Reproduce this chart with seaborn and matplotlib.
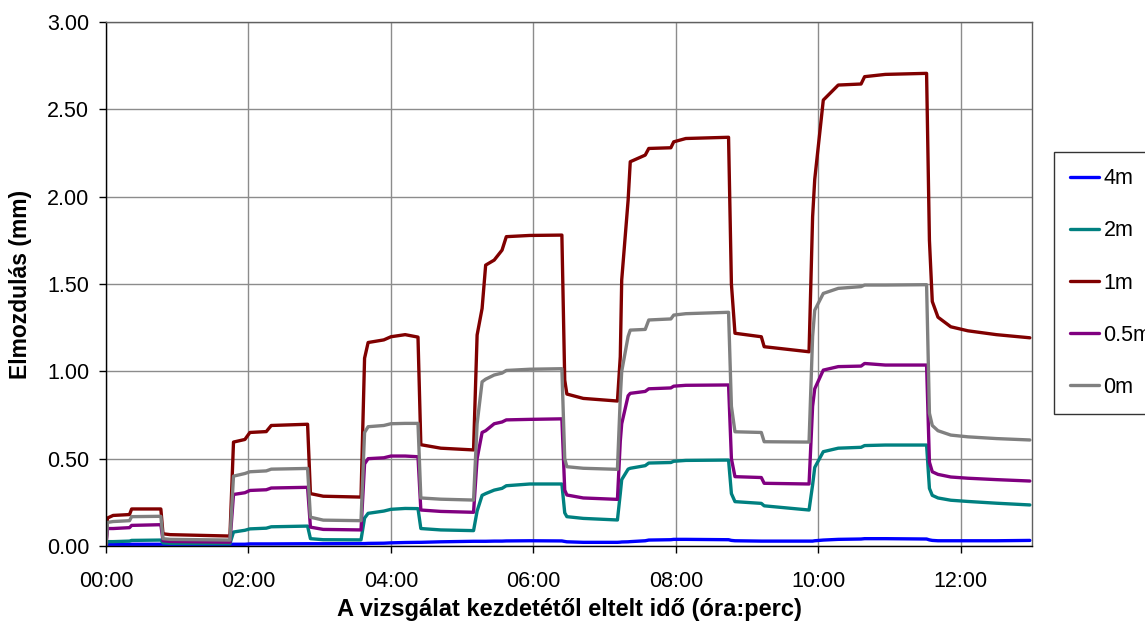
import matplotlib
matplotlib.use("Agg")
import matplotlib.pyplot as plt
import matplotlib.ticker as mticker
from matplotlib.lines import Line2D
import numpy as np
import pandas as pd
import seaborn as sns

# ---- data (time in hours since start of test, displacement in mm) ----
series_names = ["4m", "2m", "1m", "0.5m", "0m"]
series_colors = ["#0000FF", "#008080", "#800000", "#800080", "#808080"]

time_h = [0.00, 0.02, 0.10, 0.33, 0.36, 0.77, 0.80, 0.90, 1.74,
          1.79, 1.95, 2.02, 2.25, 2.32, 2.83, 2.87, 3.05, 3.58,
          3.63, 3.68, 3.90, 4.00, 4.20, 4.38, 4.42, 4.70, 5.16,
          5.21, 5.28, 5.33, 5.45, 5.56, 5.62, 5.95, 6.40, 6.44, 6.47, 6.70, 7.18,
          7.22, 7.24, 7.33, 7.36, 7.57, 7.62, 7.93, 7.97, 8.14, 8.74,
          8.78, 8.83, 9.20, 9.24, 9.87,
          9.92, 9.95, 10.07, 10.28, 10.60, 10.65, 10.94, 11.52,
          11.56, 11.60, 11.68, 11.86, 12.10, 12.50, 12.97]

d_4m = [0.000, 0.010, 0.010, 0.010, 0.010, 0.010, 0.010, 0.010, 0.010,
        0.010, 0.010, 0.012, 0.012, 0.012, 0.013, 0.013, 0.013, 0.014,
        0.014, 0.015, 0.016, 0.018, 0.020, 0.021, 0.021, 0.024, 0.027,
        0.027, 0.027, 0.027, 0.028, 0.028, 0.029, 0.030, 0.029, 0.026, 0.024, 0.021, 0.021,
        0.022, 0.023, 0.024, 0.025, 0.030, 0.034, 0.036, 0.038, 0.038, 0.036,
        0.032, 0.030, 0.028, 0.028, 0.028,
        0.028, 0.030, 0.034, 0.038, 0.040, 0.042, 0.042, 0.040,
        0.035, 0.032, 0.030, 0.030, 0.030, 0.030, 0.032]

d_2m = [0.000, 0.025, 0.025, 0.028, 0.032, 0.034, 0.018, 0.015, 0.013,
        0.080, 0.090, 0.098, 0.102, 0.110, 0.114, 0.042, 0.036, 0.035,
        0.160, 0.187, 0.200, 0.210, 0.215, 0.214, 0.100, 0.092, 0.088,
        0.200, 0.290, 0.300, 0.320, 0.330, 0.345, 0.355, 0.355, 0.190, 0.168, 0.158, 0.149,
        0.300, 0.380, 0.440, 0.445, 0.460, 0.475, 0.478, 0.485, 0.490, 0.492,
        0.300, 0.254, 0.244, 0.230, 0.206,
        0.350, 0.450, 0.540, 0.560, 0.565, 0.575, 0.578, 0.578,
        0.330, 0.290, 0.275, 0.262, 0.255, 0.245, 0.235]

d_1m = [0.000, 0.160, 0.175, 0.180, 0.212, 0.212, 0.070, 0.065, 0.057,
        0.595, 0.610, 0.650, 0.655, 0.690, 0.697, 0.300, 0.285, 0.280,
        1.075, 1.165, 1.180, 1.198, 1.210, 1.196, 0.580, 0.560, 0.550,
        1.208, 1.360, 1.608, 1.637, 1.694, 1.771, 1.778, 1.780, 0.950, 0.870, 0.845, 0.830,
        1.084, 1.523, 1.980, 2.200, 2.238, 2.276, 2.280, 2.314, 2.333, 2.340,
        1.500, 1.218, 1.198, 1.141, 1.112,
        1.885, 2.100, 2.553, 2.639, 2.645, 2.687, 2.700, 2.706,
        1.750, 1.400, 1.310, 1.255, 1.232, 1.210, 1.192]

d_05m = [0.000, 0.100, 0.100, 0.105, 0.118, 0.122, 0.030, 0.026, 0.022,
         0.295, 0.305, 0.318, 0.322, 0.332, 0.336, 0.108, 0.095, 0.092,
         0.470, 0.500, 0.505, 0.515, 0.515, 0.511, 0.206, 0.198, 0.193,
         0.500, 0.650, 0.660, 0.700, 0.710, 0.722, 0.725, 0.728, 0.320, 0.292, 0.275, 0.267,
         0.600, 0.700, 0.860, 0.874, 0.885, 0.900, 0.905, 0.915, 0.920, 0.922,
         0.500, 0.397, 0.392, 0.359, 0.355,
         0.800, 0.900, 1.007, 1.027, 1.030, 1.045, 1.036, 1.036,
         0.480, 0.425, 0.410, 0.395, 0.388, 0.380, 0.372]

d_0m = [0.000, 0.135, 0.140, 0.145, 0.168, 0.170, 0.042, 0.038, 0.034,
        0.400, 0.415, 0.425, 0.430, 0.440, 0.444, 0.165, 0.148, 0.145,
        0.650, 0.683, 0.690, 0.700, 0.702, 0.702, 0.275, 0.268, 0.263,
        0.700, 0.940, 0.955, 0.979, 0.990, 1.005, 1.012, 1.015, 0.500, 0.454, 0.445, 0.439,
        0.850, 1.000, 1.200, 1.236, 1.240, 1.294, 1.300, 1.322, 1.330, 1.338,
        0.800, 0.654, 0.650, 0.597, 0.595,
        1.200, 1.350, 1.446, 1.475, 1.485, 1.494, 1.494, 1.496,
        0.760, 0.690, 0.660, 0.635, 0.625, 0.615, 0.607]

y_ticks = [0.0, 0.5, 1.0, 1.5, 2.0, 2.5, 3.0]
x_ticks_h = [0, 2, 4, 6, 8, 10, 12]

y_label = "Elmozdulás (mm)"
x_label = "A vizsgálat kezdetétől eltelt idő (óra:perc)"

# ---- long-form table ----
values = {"4m": d_4m, "2m": d_2m, "1m": d_1m, "0.5m": d_05m, "0m": d_0m}
frames = []
for name in series_names:
    frames.append(pd.DataFrame({"t": time_h, "d": values[name], "series": name}))
df = pd.concat(frames, ignore_index=True)

# ---- plotting ----
sns.set_style("white")
plt.rcParams["font.family"] = ["Liberation Sans", "DejaVu Sans"]
plt.rcParams["text.color"] = "black"
plt.rcParams["axes.labelcolor"] = "black"

fig = plt.figure(figsize=(11.45, 6.42), dpi=100)
ax = fig.add_axes([106 / 1145, 1 - 546 / 642, 926 / 1145, 524 / 642])

palette = dict(zip(series_names, series_colors))
sns.lineplot(data=df, x="t", y="d", hue="series", hue_order=series_names,
             palette=palette, estimator=None, sort=False, linewidth=2.4,
             legend=False, ax=ax, solid_joinstyle="round")

ax.set_xlim(0, 13.0)
ax.set_ylim(0, 3.0)
ax.set_yticks(y_ticks)
ax.set_xticks(x_ticks_h)
ax.yaxis.set_major_formatter(mticker.FuncFormatter(lambda v, p: f"{v:.2f}"))
ax.xaxis.set_major_formatter(
    mticker.FuncFormatter(lambda v, p: f"{int(round(v * 60)) // 60:02d}:{int(round(v * 60)) % 60:02d}"))

ax.grid(True, color="#8c8c8c", linewidth=1.0)
ax.set_axisbelow(True)

for side in ["left", "bottom"]:
    ax.spines[side].set_color("black")
    ax.spines[side].set_linewidth(1.0)
for side in ["top", "right"]:
    ax.spines[side].set_color("#606060")
    ax.spines[side].set_linewidth(1.0)

ax.tick_params(axis="both", which="major", direction="out", length=5,
               width=1, color="black", labelsize=15.5, labelcolor="black")
ax.tick_params(axis="x", pad=13)
ax.tick_params(axis="y", pad=7)
ax.xaxis.set_ticks_position("bottom")
ax.yaxis.set_ticks_position("left")

ax.set_xlabel(x_label, fontsize=17, fontweight="bold", color="black")
ax.set_ylabel(y_label, fontsize=16.5, fontweight="bold", color="black")
ax.xaxis.set_label_coords(0.5, -0.122)
ax.xaxis.label.set_va("center")
ax.yaxis.set_label_coords(-0.092, 0.5)
ax.yaxis.label.set_va("center")

handles = [Line2D([0], [0], color=c, linewidth=2.4) for c in series_colors]
leg = fig.legend(handles, series_names, loc="upper left",
                 bbox_to_anchor=(1054 / 1145, 1 - 152 / 642),
                 frameon=True, fancybox=False, fontsize=15.5,
                 handlelength=1.35, handletextpad=0.2, labelspacing=1.45,
                 borderpad=0.75, borderaxespad=0.0, labelcolor="black")
leg.get_frame().set_edgecolor("black")
leg.get_frame().set_linewidth(1.0)

fig.savefig("out.png", dpi=100)
